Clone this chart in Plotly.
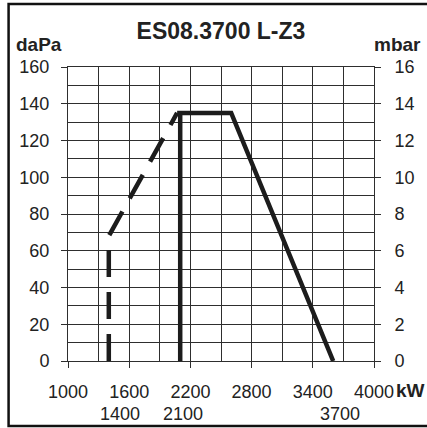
import plotly.graph_objects as go

# Data
dash_x = [1400, 1400, 2070]
dash_y = [0, 68, 135]
solid_vert_x = [2100, 2100]
solid_vert_y = [0, 135]
solid_top_x = [2070, 2600, 3600]
solid_top_y = [135, 135, 0]
x_ticks = [1000, 1600, 2200, 2800, 3400, 4000]
y_ticks = [0, 20, 40, 60, 80, 100, 120, 140, 160]
y2_ticks = [0, 2, 4, 6, 8, 10, 12, 14, 16]
extra_x_labels = [1400, 2100, 3700]
extra_x_shift = [11, 3, -3]

FONT = "Liberation Sans, Arial, sans-serif"
LINE = "#1c1c1c"
GRID = "#2e2e2e"
W = 4.5

fig = go.Figure()
fig.add_trace(go.Scatter(x=dash_x, y=dash_y, mode="lines",
                         line=dict(color=LINE, width=W, dash="27px,15px"),
                         showlegend=False, hoverinfo="skip"))
fig.add_trace(go.Scatter(x=solid_vert_x, y=solid_vert_y, mode="lines",
                         line=dict(color=LINE, width=W),
                         showlegend=False, hoverinfo="skip"))
fig.add_trace(go.Scatter(x=solid_top_x, y=solid_top_y, mode="lines",
                         line=dict(color=LINE, width=W),
                         showlegend=False, hoverinfo="skip"))
fig.add_trace(go.Scatter(x=[x_ticks[0]], y=[y2_ticks[0]], yaxis="y2", mode="markers",
                         marker=dict(opacity=0), showlegend=False, hoverinfo="skip"))

L, R, T, B = 68, 50, 67, 67
PW = 427 - L - R
PH = 428 - T - B

fig.update_layout(
    width=427, height=428,
    margin=dict(l=L, r=R, t=T, b=B),
    paper_bgcolor="white", plot_bgcolor="white",
    font=dict(family=FONT, size=18, color="#222"),
    title=dict(text="<b>ES08.3700 L-Z3</b>", x=0.5, xref="paper", xanchor="center",
               y=1 - 31 / 428, yref="container", yanchor="middle",
               font=dict(size=23, family=FONT, color="#222")),
    xaxis=dict(range=[1000, 4000], tickvals=x_ticks, ticks="outside", ticklen=6,
               tickcolor=GRID, showgrid=True, gridcolor=GRID, gridwidth=1,
               minor=dict(dtick=300, tick0=1000, showgrid=True, gridcolor=GRID, gridwidth=1),
               showline=True, linecolor=GRID, linewidth=1, mirror=True,
               zeroline=False, ticklabelstandoff=8, fixedrange=True),
    yaxis=dict(range=[0, 160], tickvals=y_ticks, ticks="outside", ticklen=6,
               tickcolor=GRID, showgrid=True, gridcolor=GRID, gridwidth=1,
               minor=dict(dtick=10, tick0=0, showgrid=True, gridcolor=GRID, gridwidth=1),
               showline=True, linecolor=GRID, linewidth=1, mirror=True,
               zeroline=False, ticklabelstandoff=8, fixedrange=True),
    yaxis2=dict(range=[0, 16], tickvals=y2_ticks, overlaying="y", side="right",
                ticks="outside", ticklen=6, tickcolor=GRID, showgrid=False,
                showline=False, zeroline=False, ticklabelstandoff=10, fixedrange=True),
)

annos = [
    dict(text="<b>daPa</b>", x=(39 - L) / PW, y=(428 - B - 45) / PH, xref="paper", yref="paper",
         xanchor="center", yanchor="middle", showarrow=False, font=dict(size=19, color="#222")),
    dict(text="<b>mbar</b>", x=(401 - L) / PW, y=(428 - B - 45) / PH, xref="paper", yref="paper",
         xanchor="center", yanchor="middle", showarrow=False, font=dict(size=19, color="#222")),
    dict(text="<b>kW</b>", x=(397 - L) / PW, y=(428 - B - 390) / PH, xref="paper", yref="paper",
         xanchor="left", yanchor="middle", showarrow=False, font=dict(size=19, color="#222")),
]
for xv, sh in zip(extra_x_labels, extra_x_shift):
    annos.append(dict(text=str(xv), x=xv, xref="x", y=(428 - B - 414) / PH, yref="paper",
                      xanchor="center", yanchor="middle", xshift=sh, showarrow=False,
                      font=dict(size=18, color="#222")))
fig.update_layout(annotations=annos)

fig.add_shape(type="rect", xref="paper", yref="paper",
              x0=(8 - L) / PW, x1=(432 - L) / PW,
              y0=(428 - B - 426) / PH, y1=(428 - B - 4) / PH,
              line=dict(color="#111", width=2.5), fillcolor="rgba(0,0,0,0)")

fig.write_html("out.html", config={"displayModeBar": False},
               post_script="document.body.style.margin='0';document.body.style.overflow='hidden';")
